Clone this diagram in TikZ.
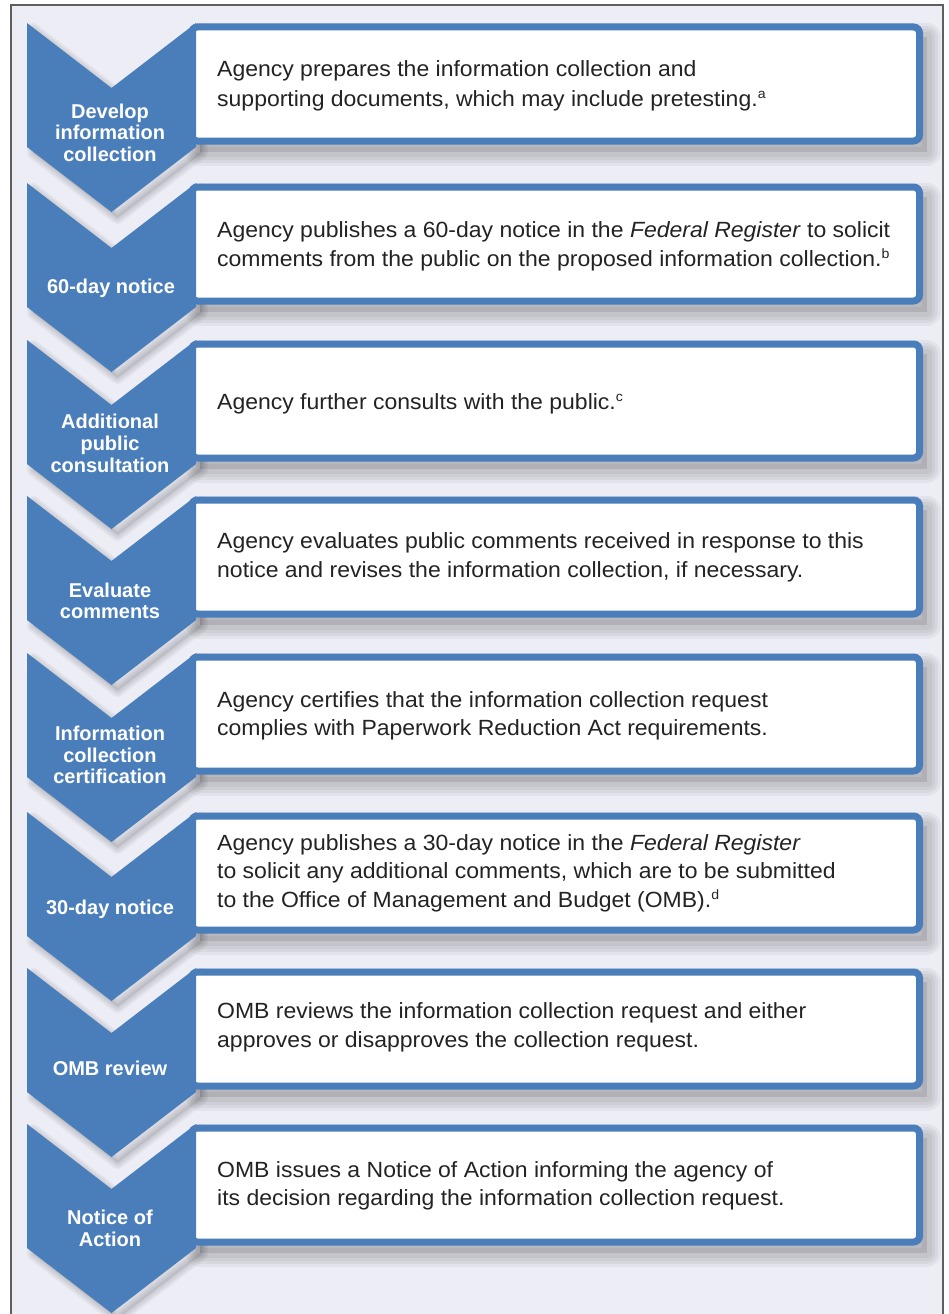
\documentclass[tikz,border=0pt]{standalone}
\usepackage{fontspec}
\setmainfont{Liberation Sans}
\newfontfamily\boxfont[FakeStretch=1.045]{Liberation Sans}
\definecolor{stepblue}{RGB}{74,126,187}
\definecolor{bglav}{RGB}{236,237,245}
\definecolor{bodytxt}{RGB}{35,35,35}
\definecolor{framegray}{RGB}{95,95,95}
\newcommand\sps[1]{\raisebox{8pt}{\fontsize{13.5}{13.5}\selectfont #1}}
\newcommand\softshade[1]{%
  \foreach \sw in {28,22,16,10}{\draw[line width=\sw pt, black, draw opacity=0.045, line join=round] #1;}%
  \fill[black, fill opacity=0.1] #1;}
\newcommand\chevshade[1]{%
  \foreach \sw in {12,8,4}{\draw[line width=\sw pt, black, draw opacity=0.045, line join=round] #1;}%
  \fill[black, fill opacity=0.08] #1;}
\begin{document}
\begin{tikzpicture}[x=1pt,y=-1pt,
  chevshape/.style={fill=stepblue},
  boxshape/.style={draw=stepblue, fill=white, line width=7pt, rounded corners=6pt},
  boxtxt/.style={anchor=base west, inner sep=0pt, text=bodytxt, font=\boxfont\fontsize{22}{28}\selectfont},
  lbl/.style={anchor=base, inner sep=0pt, text=white, font=\bfseries\fontsize{20}{21.5}\selectfont},
]
\useasboundingbox (0,0) rectangle (949,1314);
\fill[white] (0,0) rectangle (949,1314);
\fill[bglav] (11,5) rectangle (943,1314);
\draw[framegray, line width=1.5pt] (11,1314) -- (11,5) -- (943,5) -- (943,1314);

% shadows
\foreach \t in {23,183,340,496,653,812,968,1124}{
  \softshade{(200,\t+14) rectangle (927,\t+129)}
  \chevshade{(33,\t+6) -- (117.5,\t+71) -- (202,\t+6) -- (202,\t+130) -- (117.5,\t+195) -- (33,\t+130) -- cycle}
}

% boxes and chevrons
\foreach \t in {23,183,340,496,653,812,968,1124}{
  \path[boxshape] (191.5,\t+4) rectangle (919.5,\t+118);
  \fill[chevshape] (27,\t) -- (111.5,\t+65) -- (196,\t) -- (196,\t+124) -- (111.5,\t+189) -- (27,\t+124) -- cycle;
}

% chevron labels
\node[lbl] (c1a) at (110,118) {Develop};
\node[lbl] (c1b) at (110,139.5) {information};
\node[lbl] (c1c) at (110,161) {collection};
\node[lbl] (c2a) at (111,293) {60-day notice};
\node[lbl] (c3a) at (110,428) {Additional};
\node[lbl] (c3b) at (110,450) {public};
\node[lbl] (c3c) at (110,472) {consultation};
\node[lbl] (c4a) at (110,597) {Evaluate};
\node[lbl] (c4b) at (110,618) {comments};
\node[lbl] (c5a) at (110,740) {Information};
\node[lbl] (c5b) at (110,762) {collection};
\node[lbl] (c5c) at (110,783) {certification};
\node[lbl] (c6a) at (110,914) {30-day notice};
\node[lbl] (c7a) at (110,1075) {OMB review};
\node[lbl] (c8a) at (110,1224) {Notice of};
\node[lbl] (c8b) at (110,1246) {Action};

% box texts
\node[boxtxt] (b1a) at (217,77) {Agency prepares the information collection and};
\node[boxtxt] (b1b) at (217,106) {supporting documents, which may include pretesting.\sps{a}};
\node[boxtxt] (b2a) at (217,237) {Agency publishes a 60-day notice in the \textit{Federal Register} to solicit};
\node[boxtxt] (b2b) at (217,266) {comments from the public on the proposed information collection.\sps{b}};
\node[boxtxt] (b3a) at (217,409) {Agency further consults with the public.\sps{c}};
\node[boxtxt] (b4a) at (217,548) {Agency evaluates public comments received in response to this};
\node[boxtxt] (b4b) at (217,577) {notice and revises the information collection, if necessary.};
\node[boxtxt] (b5a) at (217,707) {Agency certifies that the information collection request};
\node[boxtxt] (b5b) at (217,735) {complies with Paperwork Reduction Act requirements.};
\node[boxtxt] (b6a) at (217,850) {Agency publishes a 30-day notice in the \textit{Federal Register}};
\node[boxtxt] (b6b) at (217,878.5) {to solicit any additional comments, which are to be submitted};
\node[boxtxt] (b6c) at (217,907) {to the Office of Management and Budget (OMB).\sps{d}};
\node[boxtxt] (b7a) at (217,1018) {OMB reviews the information collection request and either};
\node[boxtxt] (b7b) at (217,1047) {approves or disapproves the collection request.};
\node[boxtxt] (b8a) at (217,1177) {OMB issues a Notice of Action informing the agency of};
\node[boxtxt] (b8b) at (217,1205) {its decision regarding the information collection request.};
\end{tikzpicture}
\end{document}
